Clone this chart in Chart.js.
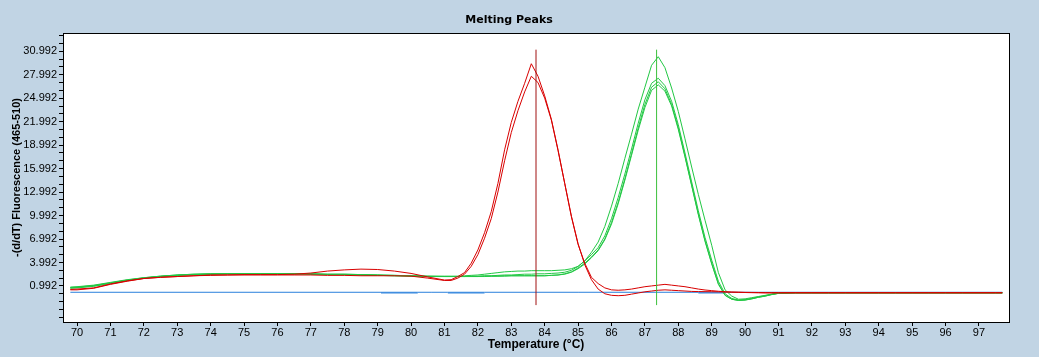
<!DOCTYPE html>
<html>
<head>
<meta charset="utf-8">
<script src="https://cdn.jsdelivr.net/npm/chart.js@4"></script>
<style>
  html, body { margin: 0; padding: 0; background: #C1D4E4; }
  #wrap { width: 1039px; height: 357px; }
</style>
</head>
<body>
<div id="wrap"><canvas id="c" width="1039" height="357"></canvas></div>
<script>
// ---------- DATA ----------
const temps = [
  69.8, 70, 70.5, 71, 71.5, 72, 72.5, 73, 73.5, 74, 74.5, 75, 75.5, 76, 76.5, 77, 77.5, 78, 78.5, 79, 79.5, 80, 80.5, 81,
  81.2, 81.4, 81.6, 81.8, 82, 82.2, 82.4, 82.6, 82.8, 83, 83.2, 83.4, 83.6, 83.8, 84, 84.2, 84.4, 84.6, 84.8, 85,
  85.2, 85.4, 85.6, 85.8, 86, 86.2, 86.4, 86.6, 86.8, 87, 87.2, 87.4, 87.6, 87.8, 88, 88.2, 88.4, 88.6, 88.8, 89,
  89.2, 89.4, 89.6, 89.8, 90, 90.2, 90.4, 90.6, 90.8, 91,
  91.5, 92, 92.5, 93, 93.5, 94, 94.5, 95, 95.5, 96, 96.5, 97, 97.5, 97.7
];

const redA = [
  0.5, 0.5, 0.7, 1.2, 1.6, 1.95, 2.1, 2.2, 2.3, 2.4, 2.4, 2.45, 2.45, 2.45, 2.5, 2.65, 2.9, 3.05, 3.15, 3.1, 2.9, 2.6, 2.15, 1.75,
  1.8, 2.2, 2.7, 3.9, 5.6, 7.8, 10.5, 14.1, 18.4, 21.9, 24.6, 26.9, 29.4, 27.8, 25.3, 22.3, 18.4, 14.1, 9.85, 6.3,
  3.9, 2.1, 1.3, 0.75, 0.5, 0.45, 0.5, 0.6, 0.75, 0.9, 1.0, 1.1, 1.2, 1.1, 1.0, 0.9, 0.75, 0.6, 0.48, 0.4,
  0.32, 0.26, 0.22, 0.2, 0.18, 0.17, 0.16, 0.15, 0.15, 0.15,
  0.15, 0.15, 0.15, 0.15, 0.15, 0.15, 0.15, 0.15, 0.15, 0.15, 0.15, 0.15, 0.15, 0.15
];
const redB = [
  0.55, 0.6, 0.75, 1.25, 1.65, 1.95, 2.1, 2.2, 2.3, 2.35, 2.4, 2.4, 2.4, 2.4, 2.4, 2.4, 2.35, 2.35, 2.3, 2.3, 2.3, 2.25, 2.0, 1.7,
  1.7, 2.0, 2.5, 3.5, 5.0, 7.1, 9.6, 13.0, 17.0, 20.6, 23.4, 25.8, 27.8, 27.0, 25.0, 22.2, 18.3, 14.1, 9.9, 6.4,
  3.7, 1.8, 0.6, 0.0, -0.2, -0.25, -0.2, -0.05, 0.1, 0.25, 0.35, 0.45, 0.5, 0.45, 0.4, 0.35, 0.3, 0.28, 0.27, 0.26,
  0.25, 0.22, 0.2, 0.18, 0.16, 0.14, 0.12, 0.1, 0.1, 0.1,
  0.1, 0.1, 0.1, 0.1, 0.1, 0.1, 0.1, 0.1, 0.1, 0.1, 0.1, 0.1, 0.1, 0.1
];

const greenA = [
  0.85, 0.9, 1.1, 1.45, 1.8, 2.05, 2.25, 2.4, 2.5, 2.55, 2.57, 2.57, 2.57, 2.57, 2.57, 2.55, 2.5, 2.5, 2.45, 2.4, 2.35, 2.3, 2.25, 2.25,
  2.25, 2.25, 2.3, 2.35, 2.4, 2.5, 2.6, 2.7, 2.8, 2.85, 2.9, 2.9, 2.95, 2.95, 2.95, 2.95, 3.0, 3.05, 3.2, 3.5,
  4.2, 5.3, 6.6, 8.6, 11.2, 14.1, 17.3, 20.4, 23.6, 26.4, 29.2, 30.3, 28.9, 26.3, 23.3, 19.8, 16.2, 12.7, 9.4, 6.2,
  2.7, 0.5, -0.3, -0.7, -0.65, -0.5, -0.35, -0.2, -0.05, 0.08,
  0.12, 0.12, 0.12, 0.12, 0.12, 0.12, 0.12, 0.12, 0.12, 0.12, 0.12, 0.12, 0.12, 0.12
];
const greenB = [
  0.8, 0.85, 1.05, 1.4, 1.75, 2.05, 2.25, 2.4, 2.5, 2.55, 2.57, 2.57, 2.57, 2.57, 2.57, 2.55, 2.5, 2.5, 2.45, 2.4, 2.35, 2.3, 2.25, 2.2,
  2.2, 2.2, 2.2, 2.25, 2.25, 2.3, 2.3, 2.35, 2.4, 2.4, 2.45, 2.5, 2.5, 2.55, 2.55, 2.6, 2.65, 2.75, 3.0, 3.5,
  4.2, 5.0, 5.9, 7.4, 9.6, 12.3, 15.3, 18.5, 21.8, 24.8, 26.9, 27.55, 26.6, 24.6, 21.6, 18.0, 14.3, 10.6, 7.2, 4.3,
  1.6, 0.0, -0.6, -0.8, -0.75, -0.6, -0.4, -0.25, -0.05, 0.06,
  0.12, 0.12, 0.12, 0.12, 0.12, 0.12, 0.12, 0.12, 0.12, 0.12, 0.12, 0.12, 0.12, 0.12
];
const greenC = [
  0.75, 0.8, 1.0, 1.35, 1.7, 2.0, 2.2, 2.35, 2.45, 2.5, 2.55, 2.55, 2.55, 2.55, 2.55, 2.5, 2.45, 2.45, 2.4, 2.35, 2.3, 2.25, 2.2, 2.2,
  2.2, 2.2, 2.2, 2.2, 2.2, 2.25, 2.25, 2.25, 2.3, 2.3, 2.3, 2.3, 2.3, 2.3, 2.3, 2.35, 2.4, 2.55, 2.8, 3.3,
  3.9, 4.7, 5.6, 7.0, 9.1, 11.7, 14.7, 17.9, 21.2, 24.2, 26.4, 27.1, 26.2, 24.2, 21.2, 17.6, 13.9, 10.2, 6.8, 3.9,
  1.3, -0.2, -0.7, -0.85, -0.8, -0.65, -0.45, -0.3, -0.1, 0.05,
  0.12, 0.12, 0.12, 0.12, 0.12, 0.12, 0.12, 0.12, 0.12, 0.12, 0.12, 0.12, 0.12, 0.12
];
const greenD = [
  0.7, 0.75, 0.95, 1.3, 1.7, 2.0, 2.2, 2.35, 2.45, 2.5, 2.55, 2.55, 2.55, 2.55, 2.55, 2.5, 2.45, 2.45, 2.4, 2.35, 2.3, 2.25, 2.2, 2.2,
  2.2, 2.2, 2.2, 2.2, 2.2, 2.2, 2.25, 2.25, 2.25, 2.3, 2.3, 2.3, 2.3, 2.3, 2.3, 2.35, 2.4, 2.5, 2.75, 3.2,
  3.8, 4.6, 5.5, 6.9, 8.9, 11.5, 14.5, 17.7, 20.9, 23.8, 26.0, 26.7, 25.9, 24.0, 21.0, 17.5, 13.8, 10.1, 6.7, 3.8,
  1.2, -0.2, -0.7, -0.85, -0.8, -0.65, -0.45, -0.3, -0.1, 0.05,
  0.12, 0.12, 0.12, 0.12, 0.12, 0.12, 0.12, 0.12, 0.12, 0.12, 0.12, 0.12, 0.12, 0.12
];

// negative controls (flat)
const blueTemps = [69.8, 79.1, 80.2, 80.6, 81.1, 82.2, 85.0, 88.6, 89.4, 97.7];
const blueA = [0.19, 0.19, 0.19, 0.19, 0.19, 0.19, 0.19, 0.19, 0.19, 0.19];
const blueB = [null, 0.1, 0.1, null, 0.1, 0.1, null, 0.1, 0.1, null];

// melting temperature markers
const tmTemps = [83.74, 87.35];
const tmRange = [-1.45, 31.2];

// axis ticks
const xTicks = [70, 71, 72, 73, 74, 75, 76, 77, 78, 79, 80, 81, 82, 83, 84, 85, 86, 87, 88, 89, 90, 91, 92, 93, 94, 95, 96, 97];
const yLabelTicks = [0.992, 3.992, 6.992, 9.992, 12.992, 15.992, 18.992, 21.992, 24.992, 27.992, 30.992];
const yMinorTicks = [-3.008, -2.008, -1.008, -0.008, 1.992, 2.992, 4.992, 5.992, 7.992, 8.992, 10.992, 11.992, 13.992, 14.992,
  16.992, 17.992, 19.992, 20.992, 22.992, 23.992, 25.992, 26.992, 28.992, 29.992, 31.992, 32.992];

// ---------- CHART ----------
const RED = '#D80000', GREEN = '#22C844', BLUE = '#2A80DC';
function series(vals) { return temps.map((t, i) => ({ x: t, y: vals[i] })); }
function pairs(xs, ys) { return xs.map((t, i) => ({ x: t, y: ys[i] })); }
function line(data, color, order, extra) {
  return Object.assign({ data, borderColor: color, borderWidth: 1, pointRadius: 0, tension: 0, fill: false, order, spanGaps: false }, extra || {});
}

Chart.defaults.font.family = "'Liberation Sans', Arial, sans-serif";
Chart.defaults.color = '#000';

const bgPlugin = {
  id: 'bg',
  beforeDraw(chart) {
    const { ctx, chartArea: a } = chart;
    ctx.save();
    ctx.fillStyle = '#C1D4E4';
    ctx.fillRect(0, 0, chart.width, chart.height);
    ctx.fillStyle = '#fff';
    ctx.fillRect(a.left, a.top, a.right - a.left, a.bottom - a.top);
    ctx.restore();
  },
  afterDraw(chart) {
    const { ctx, chartArea: a } = chart;
    ctx.save();
    ctx.strokeStyle = '#000';
    ctx.lineWidth = 1;
    ctx.strokeRect(Math.round(a.left) + 0.5, Math.round(a.top) + 0.5,
                   Math.round(a.right - a.left), Math.round(a.bottom - a.top));
    ctx.restore();
  }
};

new Chart(document.getElementById('c'), {
  type: 'line',
  data: {
    datasets: [
      line(pairs([tmTemps[0], tmTemps[0]], tmRange), '#A01010', 0),
      line(pairs([tmTemps[1], tmTemps[1]], tmRange), '#3CC03C', 0),
      line(series(redA), RED, 1),
      line(series(redB), RED, 1),
      line(series(greenA), GREEN, 2),
      line(series(greenB), GREEN, 2),
      line(series(greenC), GREEN, 2),
      line(series(greenD), GREEN, 2),
      line(pairs(blueTemps, blueA), BLUE, 3),
      line(pairs(blueTemps, blueB), BLUE, 3)
    ]
  },
  options: {
    responsive: false,
    animation: false,
    devicePixelRatio: 1,
    layout: { padding: { left: 9, right: 30, top: 0, bottom: 0 } },
    plugins: {
      legend: { display: false },
      tooltip: { enabled: false },
      title: {
        display: true,
        text: 'Melting Peaks',
        font: { family: "'DejaVu Sans', Verdana, sans-serif", size: 11, weight: 'bold' },
        color: '#000',
        padding: { top: 14, bottom: 5.8 }
      }
    },
    scales: {
      x: {
        type: 'linear',
        min: 69.58,
        max: 97.9,
        afterBuildTicks(s) { s.ticks = xTicks.map(v => ({ value: v })); },
        afterFit(s) { s.height = 35; },
        ticks: { font: { size: 11 }, color: '#000', padding: 0, maxRotation: 0, autoSkip: false,
                 callback: v => String(v) },
        grid: { display: true, drawOnChartArea: false, drawTicks: true, tickLength: 4, color: '#000' },
        border: { display: false },
        title: { display: true, text: 'Temperature (°C)', color: '#000',
                 font: { size: 12, weight: 'bold' }, padding: { top: 0, bottom: 5 } }
      },
      y: {
        type: 'linear',
        min: -3.61,
        max: 33.33,
        afterBuildTicks(s) {
          s.ticks = yLabelTicks.concat(yMinorTicks).sort((a, b) => a - b).map(v => ({ value: v }));
        },
        afterFit(s) { s.width = 54; },
        ticks: { font: { size: 11 }, color: '#000', padding: 2, autoSkip: false,
                 callback: v => yLabelTicks.some(t => Math.abs(t - v) < 1e-6) ? v.toFixed(3) : '' },
        grid: { display: true, drawOnChartArea: false, drawTicks: true, tickLength: 4, color: '#000' },
        border: { display: false },
        title: { display: true, text: '-(d/dT) Fluorescence (465-510)', color: '#000',
                 font: { size: 11, weight: 'bold' }, padding: { top: 1, bottom: 0 } }
      }
    }
  },
  plugins: [bgPlugin]
});
</script>
</body>
</html>
